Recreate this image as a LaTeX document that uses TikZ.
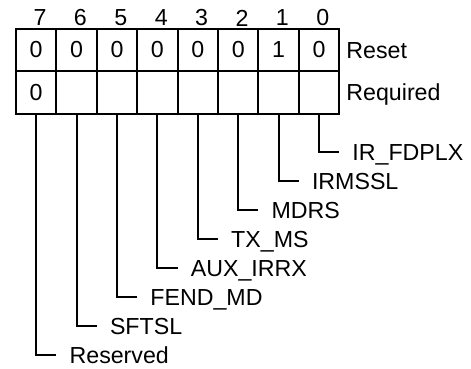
\documentclass[tikz,border=0pt]{standalone}
\usepackage{fontspec}
\setmainfont{Liberation Sans}
\usetikzlibrary{positioning}

\begin{document}
\begin{tikzpicture}[
  x=1pt, y=-1pt,
  every node/.style={font=\fontsize{23.2}{27}\selectfont},
  cell/.style={draw, line width=2pt, minimum width=40.4pt, minimum height=42.5pt, inner sep=0pt},
  bitno/.style={inner sep=0pt},
  field/.style={anchor=west, inner xsep=13pt, inner ysep=0pt, text height=16.4pt, text depth=0pt},
  leader/.style={line width=2pt},
]
\useasboundingbox (0,0) rectangle (471,368);

% register cells, bit 7 on the left
\foreach \b/\rv/\qv [count=\c from 0] in {7/0/0,6/0/,5/0/,4/0/,3/0/,2/0/,1/1/,0/0/} {
  \node[cell] (r\b) at (36.2+40.4*\c, 50) {\rv};
  \node[cell] (q\b) at (36.2+40.4*\c, 92.5) {\qv};
  \node[bitno] (b\b) at (40+40.4*\c, 18) {\b};
}

\node[field, inner xsep=6pt, right=0pt of r0] (reset) {Reset};
\node[field, inner xsep=6pt, right=0pt of q0] (req) {Required};

% field names
\foreach \b/\name [count=\c from 0] in {7/Reserved,6/SFTSL,5/FEND\_MD,4/AUX\_IRRX,3/TX\_MS,2/MDRS,1/IRMSSL,0/IR\_FDPLX} {
  \node[field] (l\b) at (16+40.4*\c+40.4, 355-29*\c) {\name};
  \draw[leader] (q\b.south) |- (l\b.west);
}
\end{tikzpicture}
\end{document}
